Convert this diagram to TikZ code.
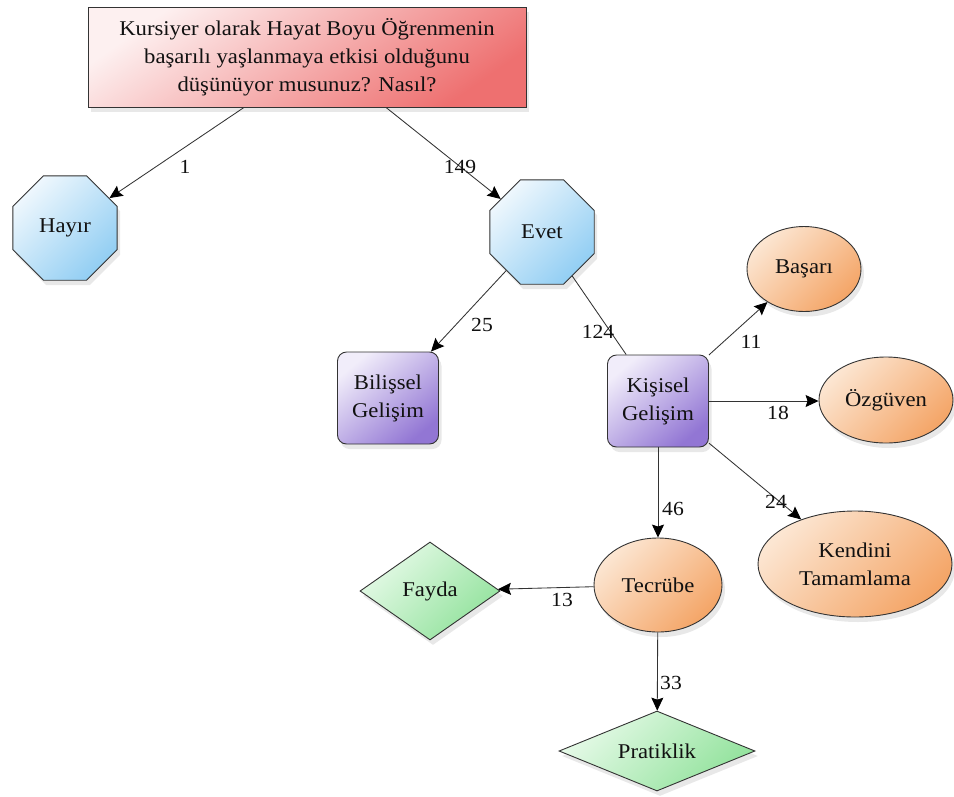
\documentclass[tikz,border=0pt]{standalone}
\usepackage{fontspec}
\setmainfont{Liberation Serif}[FakeStretch=1.08]
\usetikzlibrary{shapes.geometric,arrows.meta,shadows,calc}
\definecolor{edgec}{HTML}{333333}
\definecolor{txt}{HTML}{111111}
\definecolor{redA}{HTML}{FDF0F0}
\definecolor{redB}{HTML}{EE7070}
\definecolor{blueA}{HTML}{EEF7FD}
\definecolor{blueB}{HTML}{92CEF3}
\definecolor{purA}{HTML}{F1EDFA}
\definecolor{purB}{HTML}{9276D4}
\definecolor{orA}{HTML}{FCE6D2}
\definecolor{orB}{HTML}{F4A567}
\definecolor{grA}{HTML}{E6FAE8}
\definecolor{grB}{HTML}{92E29C}
\begin{document}
\begin{tikzpicture}[x=1pt,y=-1pt,
  every node/.style={font=\rmfamily\fontsize{21}{28}\selectfont, text=txt},
  shapebase/.style={draw=edgec, line width=0.9pt, align=center, inner sep=2pt,
    drop shadow={opacity=0.18, shadow xshift=3pt, shadow yshift=-5pt}},
  titlebox/.style={shapebase, rectangle, minimum width=438pt, minimum height=100pt,
    left color=redA, right color=redB, shading angle=35},
  octo/.style={shapebase, regular polygon, regular polygon sides=8, minimum size=113pt,
    left color=blueA, right color=blueB, shading angle=45},
  rbox/.style={shapebase, rectangle, rounded corners=9pt, minimum width=101pt, minimum height=92pt,
    left color=purA, right color=purB, shading angle=40},
  oval/.style={shapebase, ellipse, inner sep=0pt, left color=orA, right color=orB, shading angle=45},
  dia/.style={shapebase, diamond, inner sep=0pt, left color=grA, right color=grB, shading angle=45},
  arr/.style={draw=edgec, line width=0.85pt, -{Stealth[length=13pt,width=12pt,inset=2pt,black]}},
  plain/.style={draw=edgec, line width=0.85pt},
  lbl/.style={inner sep=0pt, font=\rmfamily\fontsize{20}{24}\selectfont}
]
\path[use as bounding box, fill=white] (0,0) rectangle (954,796);

% nodes
\node[titlebox] (title) at (307,57) {Kursiyer olarak Hayat Boyu Öğrenmenin\\başarılı yaşlanmaya etkisi olduğunu\\düşünüyor musunuz? Nasıl?};
\node[octo] (hayir) at (65,228) {Hayır};
\node[octo] (evet) at (542,232) {Evet};
\node[rbox] (bilissel) at (388,398) {Bilişsel\\Gelişim};
\node[rbox] (kisisel) at (658,401) {Kişisel\\Gelişim};
\node[oval, minimum width=114pt, minimum height=85pt] (basari) at (804,269) {Başarı};
\node[oval, minimum width=134pt, minimum height=86pt] (ozguven) at (886,400) {Özgüven};
\node[oval, minimum width=194pt, minimum height=106pt] (kendini) at (855,564) {Kendini\\Tamamlama};
\node[oval, minimum width=128pt, minimum height=94pt] (tecrube) at (658,585) {Tecrübe};
\node[dia, minimum width=140pt, minimum height=98pt, aspect=1.43] (fayda) at (430,591) {Fayda};
\node[dia, minimum width=196pt, minimum height=80pt, aspect=2.4] (pratik) at (657,751) {Pratiklik};

% connectors
\draw[arr] ($(title.south)+(-63,0)$) -- (hayir);
\draw[arr] ($(title.south)+(79,0)$) -- (evet);
\draw[arr] (evet) -- (bilissel);
\draw[plain] (evet) -- (kisisel);
\draw[arr] (kisisel) -- (basari);
\draw[arr] (kisisel.east) -- (kisisel.east -| ozguven.west);
\draw[arr] (kisisel) -- (kendini);
\draw[arr] (kisisel) -- (tecrube);
\draw[arr] (tecrube) -- (fayda);
\draw[arr] (tecrube) -- (pratik);

% labels
\node[lbl] (l1) at (185,167) {1};
\node[lbl] (l149) at (460,167) {149};
\node[lbl] (l25) at (482,325) {25};
\node[lbl] (l124) at (598,332) {124};
\node[lbl] (l11) at (751,342) {11};
\node[lbl] (l18) at (778,413) {18};
\node[lbl] (l24) at (776,502) {24};
\node[lbl] (l46) at (673,509) {46};
\node[lbl] (l13) at (562,600) {13};
\node[lbl] (l33) at (671,683) {33};
\end{tikzpicture}
\end{document}
